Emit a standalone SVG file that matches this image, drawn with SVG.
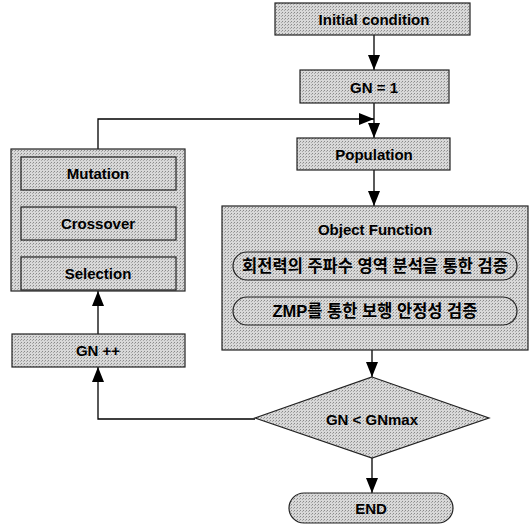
<svg xmlns="http://www.w3.org/2000/svg" width="531" height="529" viewBox="0 0 531 529">
<defs>
<pattern id="dots" width="3" height="3" patternUnits="userSpaceOnUse">
<rect width="3" height="3" fill="#d8d8d8"/>
<rect x="0" y="0" width="1" height="1" fill="#8a8a8a"/>
<rect x="2" y="1" width="1" height="1" fill="#a8a8a8"/>
</pattern>
<marker id="ah" viewBox="0 0 15 12" refX="15" refY="6" markerWidth="15" markerHeight="12" markerUnits="userSpaceOnUse" orient="auto">
<path d="M0,0 L15,6 L0,12 z" fill="#000"/>
</marker>
</defs>
<style>
.box{fill:url(#dots);stroke:#222;stroke-width:1.2}
.t{font-family:"Liberation Sans",Arial,sans-serif;font-weight:bold;font-size:15px;fill:#000;text-anchor:middle;dominant-baseline:central}
.k{font-family:"Liberation Sans","Noto Sans CJK KR",sans-serif;font-weight:bold;font-size:16.5px;fill:#000;text-anchor:middle;dominant-baseline:central}
.c{fill:none;stroke:#000;stroke-width:1.3}
</style>
<g id="connectors">
<line class="c" x1="374" y1="35" x2="374" y2="70" marker-end="url(#ah)"/>
<line class="c" x1="374" y1="103" x2="374" y2="138" marker-end="url(#ah)"/>
<polyline class="c" points="98,149 98,119 374,119" marker-end="url(#ah)"/>
<line class="c" x1="374" y1="170" x2="374" y2="206" marker-end="url(#ah)"/>
<line class="c" x1="372" y1="350" x2="372" y2="377" marker-end="url(#ah)"/>
<polyline class="c" points="255,419 98,419 98,367" marker-end="url(#ah)"/>
<line class="c" x1="98" y1="334" x2="98" y2="291" marker-end="url(#ah)"/>
<line class="c" x1="372" y1="458" x2="372" y2="493" marker-end="url(#ah)"/>
</g>
<g id="initial">
<rect class="box" x="275" y="3" width="195" height="32"/>
<text class="t" x="374" y="19">Initial condition</text>
</g>
<g id="gn1">
<rect class="box" x="300" y="70" width="149" height="33"/>
<text class="t" x="374" y="87">GN = 1</text>
</g>
<g id="population">
<rect class="box" x="297" y="138" width="153" height="32"/>
<text class="t" x="374" y="154">Population</text>
</g>
<g id="objective">
<rect class="box" x="222" y="206" width="306" height="144"/>
<text class="t" x="375" y="229">Object Function</text>
<rect class="box" x="233" y="252" width="284" height="28" rx="14"/>
<text class="k" x="375" y="266">회전력의 주파수 영역 분석을 통한 검증</text>
<rect class="box" x="233" y="297" width="284" height="28" rx="14"/>
<text class="k" x="375" y="311">ZMP를 통한 보행 안정성 검증</text>
</g>
<g id="ga">
<rect class="box" x="11" y="149" width="174" height="142"/>
<rect class="box" x="21" y="157" width="155" height="33"/>
<text class="t" x="98" y="173">Mutation</text>
<rect class="box" x="21" y="207" width="155" height="33"/>
<text class="t" x="98" y="223">Crossover</text>
<rect class="box" x="21" y="257" width="155" height="33"/>
<text class="t" x="98" y="273">Selection</text>
</g>
<g id="gnpp">
<rect class="box" x="12" y="334" width="173" height="33"/>
<text class="t" x="98" y="350">GN ++</text>
</g>
<g id="decision">
<polygon class="box" points="372,377 489,418 372,458 255,418"/>
<text class="t" x="372" y="419">GN &lt; GNmax</text>
</g>
<g id="end">
<rect class="box" x="289" y="493" width="164" height="30" rx="15"/>
<text class="t" x="371" y="508">END</text>
</g>
</svg>
